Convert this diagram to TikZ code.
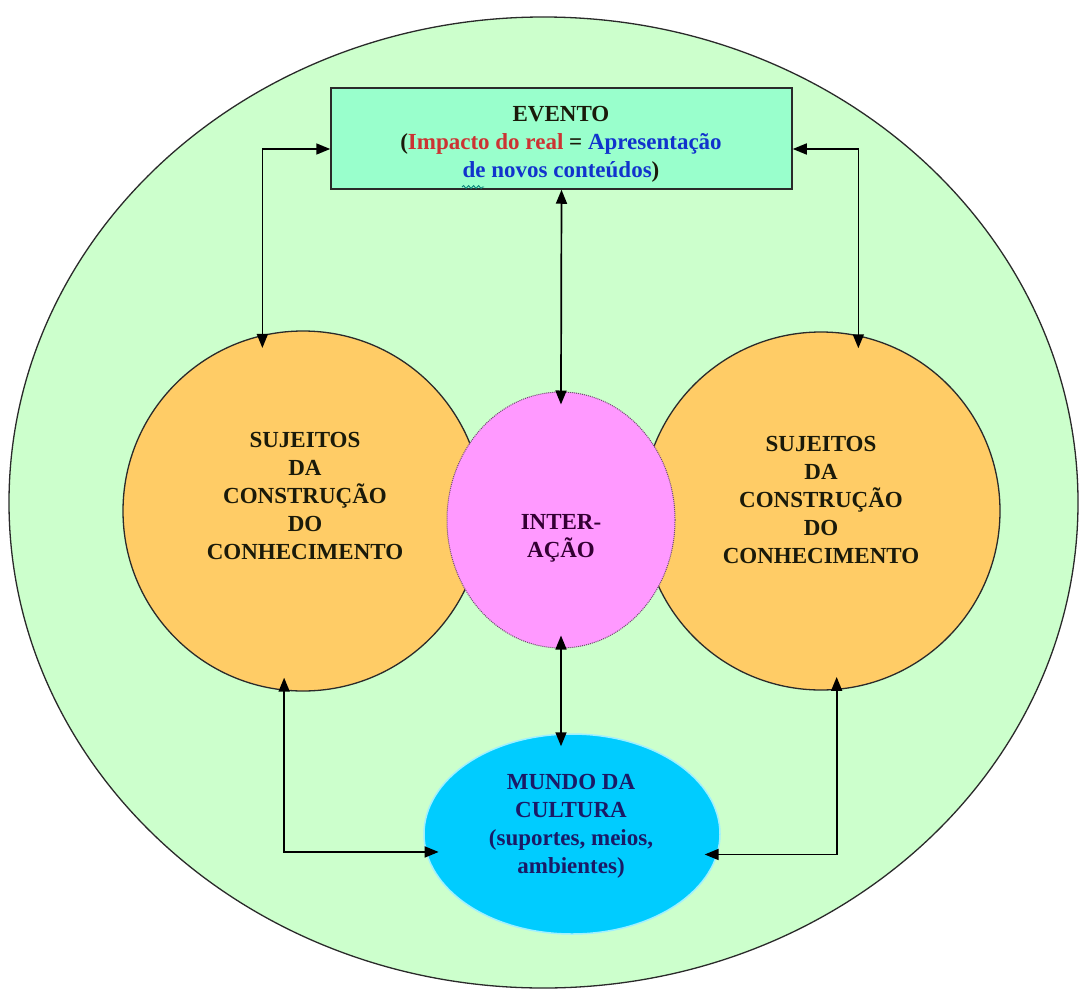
\documentclass[tikz,border=0pt]{standalone}
\usepackage{fontspec}
\setmainfont{Liberation Serif}
\usetikzlibrary{arrows.meta,shapes.geometric,decorations.pathmorphing}
\definecolor{bggreen}{HTML}{CCFFCC}
\definecolor{evfill}{HTML}{99FFCC}
\definecolor{orangefill}{HTML}{FFCC66}
\definecolor{pinkfill}{HTML}{FF99FF}
\definecolor{cyanfill}{HTML}{00CCFF}
\definecolor{cyanedge}{HTML}{A0F0FF}
\definecolor{redtxt}{HTML}{CC3333}
\definecolor{bluetxt}{HTML}{1133CC}
\definecolor{purptxt}{HTML}{330033}
\definecolor{navytxt}{HTML}{1A1A66}
\definecolor{darktxt}{HTML}{1A1A0A}
\definecolor{linegray}{HTML}{2A2A2A}
\begin{document}
\begin{tikzpicture}[x=1pt,y=-1pt,
  conn/.style={draw=black, line width=1.7pt, {Triangle[length=14pt,width=11pt]}-{Triangle[length=14pt,width=11pt]}},
  into start/.style={shorten <=-13pt},
  into end/.style={shorten >=-13pt},
  subj/.style={circle, draw=linegray, line width=1.3pt, fill=orangefill, minimum size=360pt, inner sep=0pt},
  lbl/.style={font=\fontsize{23}{28}\selectfont\bfseries, align=center, inner sep=0pt},
]
\useasboundingbox (0,0) rectangle (1081,990);
\fill[white] (0,0) rectangle (1081,990);
% outer world
\node[ellipse, draw=linegray, line width=1.3pt, fill=bggreen, minimum width=1069pt, minimum height=971pt, inner sep=0pt] (world) at (543.5,502.5) {};
% subjects
\node[subj] (L) at (303,511) {};
\node[subj, minimum size=358pt] (R) at (821,511) {};
% interaction
\node[ellipse, draw=purptxt!70, densely dotted, line width=1pt, fill=pinkfill, minimum width=228pt, minimum height=256pt, inner sep=0pt] (I) at (561,520) {};
% culture
\node[ellipse, draw=cyanedge, line width=1.5pt, fill=cyanfill, minimum width=296pt, minimum height=200pt, inner sep=0pt] (C) at (572,834) {};
% event
\node[rectangle, draw=linegray, line width=1.5pt, fill=evfill, minimum width=461pt, minimum height=101pt, inner sep=0pt] (E) at (561.5,138.5) {};
\node[lbl, text=darktxt] (Et) at (561,144)
  {EVENTO\\(\textcolor{redtxt}{Impacto do real} = \textcolor{bluetxt}{Apresentação}\\\textcolor{bluetxt}{de novos conteúdos})};
% labels
\node[lbl, text=darktxt] (Lt) at (305,496) {SUJEITOS\\DA\\CONSTRUÇÃO\\DO\\CONHECIMENTO};
\node[lbl, text=darktxt] (Rt) at (821,500) {SUJEITOS\\DA\\CONSTRUÇÃO\\DO\\CONHECIMENTO};
\node[lbl, text=purptxt] (It) at (561,538) {INTER-\\AÇÃO};
\node[lbl, text=navytxt] (Ct) at (571,826) {MUNDO DA\\CULTURA\\(suportes, meios,\\ambientes)};
% spelling squiggle under "de"
\draw[bluetxt!60!green, line width=0.9pt, decorate, decoration={snake, amplitude=1.4pt, segment length=5pt}] (462,187) -- (484,187);
% connectors
\coordinate (lc) at (261,149);
\coordinate (rc) at (859,149);
\draw[conn, into start] (L.103) |- (E.west |- lc);
\draw[conn, into start] (R.78) |- (E.east |- rc);
\draw[conn, into end] (E.south) -- (I.north);
\draw[conn, into start, into end] (I.south) -- (I.south |- C.north);
\draw[conn, into start, into end] (L.264) |- (C.187.5);
\draw[conn, into start, into end] (R.275) |- (C.352.5);
\end{tikzpicture}
\end{document}
